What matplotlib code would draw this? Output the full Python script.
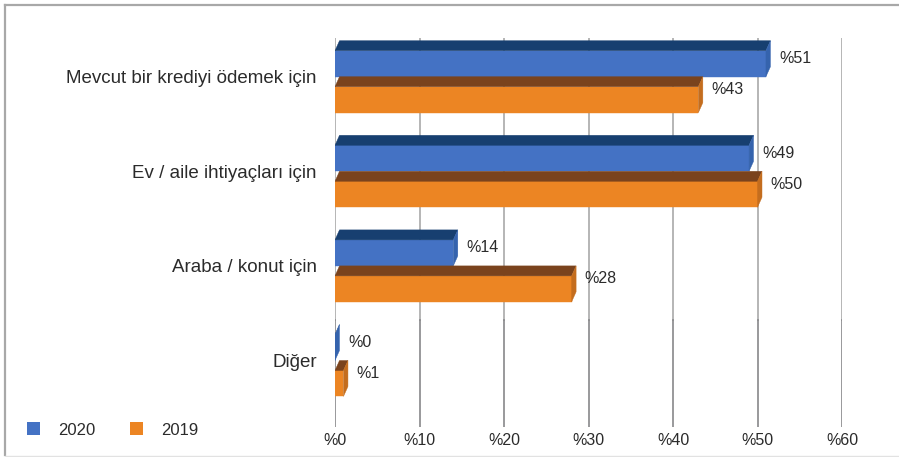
import matplotlib
matplotlib.use("Agg")
import matplotlib.pyplot as plt
from matplotlib.patches import Polygon, Patch
from matplotlib.lines import Line2D

plt.rcParams["font.family"] = ["Liberation Sans", "DejaVu Sans"]

categories = ["Mevcut bir krediyi ödemek için", "Ev / aile ihtiyaçları için",
              "Araba / konut için", "Diğer"]
series_names = ["2020", "2019"]
values_2020 = [51, 49, 14, 0]
values_2019 = [43, 50, 28, 1]
xticks = [0, 10, 20, 30, 40, 50, 60]

W, H = 899, 457
fig = plt.figure(figsize=(W / 100, H / 100), dpi=100)

# plot area (pixel layout)
left_px, right_px, top_px, bottom_px = 335, 842, 38, 427
first_center_px, spacing_px = 76.7, 94.6
ax = fig.add_axes([left_px / W, 1 - bottom_px / H,
                   (right_px - left_px) / W, (bottom_px - top_px) / H])
ax.set_xlim(xticks[0], xticks[-1])
ax.set_ylim((bottom_px - first_center_px) / spacing_px,
            (top_px - first_center_px) / spacing_px)

ux = (right_px - left_px) / (xticks[-1] - xticks[0])   # px per value unit
uy = spacing_px                                        # px per category unit
h = 26 / uy      # bar front height
d = 10 / uy      # depth (vertical)
dx = 4.5 / ux    # depth (horizontal)

colors = {
    "2020": dict(front="#4472c4", top="#173f70", side="#3563ad"),
    "2019": dict(front="#ec8523", top="#7a431d", side="#c46d1e"),
}

text_color = "#2b2b2b"


def bar3d(v, front_top, c):
    # front face through barh, top/side faces as parallelograms
    ax.barh(front_top + h / 2, v, height=h, left=0, color=c["front"],
            edgecolor=c["front"], linewidth=0.3, zorder=3)
    top = [(0, front_top), (v, front_top), (v + dx, front_top - d), (dx, front_top - d)]
    ax.add_patch(Polygon(top, closed=True, facecolor=c["top"], edgecolor=c["top"],
                         linewidth=0.3, zorder=3))
    side = [(v, front_top), (v, front_top + h), (v + dx, front_top + h - d),
            (v + dx, front_top - d)]
    ax.add_patch(Polygon(side, closed=True, facecolor=c["side"], edgecolor=c["side"],
                         linewidth=0.3, zorder=3))


for i, (v20, v19) in enumerate(zip(values_2020, values_2019)):
    # 2020 bar sits above the category centre, 2019 just below it
    ft20 = i - h
    ft19 = i + d
    bar3d(v20, ft20, colors["2020"])
    bar3d(v19, ft19, colors["2019"])
    ax.annotate(f"%{v20:.0f}", xy=(v20, ft20 + (h - d) / 2), xytext=(13, 0),
                textcoords="offset pixels", ha="left", va="center",
                fontsize=11.5, color=text_color, zorder=4)
    ax.annotate(f"%{v19:.0f}", xy=(v19, ft19 + (h - d) / 2 - 5 / uy), xytext=(13, 0),
                textcoords="offset pixels", ha="left", va="center",
                fontsize=11.5, color=text_color, zorder=4)

# vertical gridlines: lighter upper part, darker lower part
split = (bottom_px - 320) / (bottom_px - top_px)
for t in xticks:
    ax.axvline(t, ymin=split, ymax=1, color="#a2a2a2", linewidth=1.1, zorder=0)
    ax.axvline(t, ymin=0, ymax=split, color="#7d7d80", linewidth=1.1, zorder=0)

ax.set_xticks(xticks)
ax.set_xticklabels([f"%{t}" for t in xticks], fontsize=11.5, color=text_color)
ax.set_yticks(range(len(categories)))
ax.set_yticklabels(categories, fontsize=13.5, color=text_color)
ax.tick_params(axis="x", length=0, pad=4)
ax.tick_params(axis="y", length=0, pad=13)
for s in ax.spines.values():
    s.set_visible(False)
ax.patch.set_alpha(0)

# legend
handles = [Patch(facecolor=colors[n]["front"], edgecolor="none") for n in series_names]
fig.legend(handles, series_names, loc="center left",
           bbox_to_anchor=(27 / W, 1 - 430 / H), ncol=2, frameon=False,
           fontsize=12, handlelength=0.78, handleheight=0.78,
           handletextpad=1.08, columnspacing=2.1, borderpad=0, borderaxespad=0,
           labelcolor=text_color)

# outer frame
fig.add_artist(Line2D([4.5 / W, 1], [1 - 5 / H, 1 - 5 / H], color="#a8a8a8", lw=1.6))
fig.add_artist(Line2D([4.5 / W, 4.5 / W], [1 - 5 / H, 1 - 455 / H], color="#a8a8a8", lw=1.6))
fig.add_artist(Line2D([4.5 / W, 1], [1 - 455.5 / H, 1 - 455.5 / H], color="#e2e2e2", lw=1))

fig.savefig("out.png", dpi=100)
